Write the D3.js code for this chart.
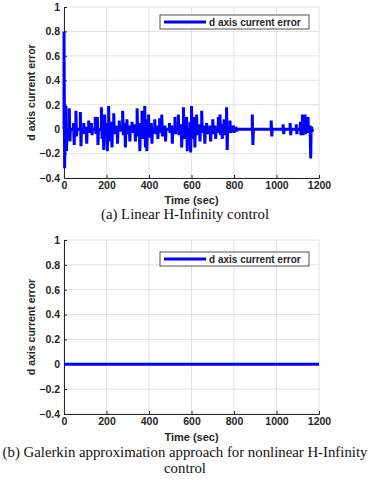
<!DOCTYPE html>
<html>
<head>
<meta charset="utf-8">
<script src="https://cdn.jsdelivr.net/npm/d3@7"></script>
<style>
  body { margin: 0; background: #fff; }
  svg { display: block; }
  .tick text { font-family: Arial, "Liberation Sans", sans-serif; font-weight: bold; font-size: 10.5px; fill: #262626; }
</style>
</head>
<body>
<svg class="chart" width="369" height="480"></svg>
<script>
/*
      Data
*/
const xTicks = [0, 200, 400, 600, 800, 1000, 1200];
const yTicks = [-0.4, -0.2, 0, 0.2, 0.4, 0.6, 0.8, 1];
const seriesName = "d axis current error";

// linear H-infinity: error bursts (time in sec, upper and lower excursion)
const burstTimes = [0, 9, 25, 45, 56, 77, 93, 104, 116, 129, 147, 157, 176, 184, 191, 201, 210, 223, 234, 249, 260, 276, 286, 296, 307, 320, 333, 344, 354, 367, 380, 387, 398, 411, 427, 439, 450, 460, 475, 496, 507, 522, 538, 551, 562, 577, 593, 600, 613, 624, 637, 648, 660, 671, 687, 700, 711, 726, 734, 742, 753, 765, 781, 797, 809, 886, 975, 1031, 1064, 1093, 1112, 1122, 1134, 1148, 1158, 1165];
const burstUp = [0.8, 0.19, 0.17, 0.05, 0.15, 0.14, 0.05, 0.02, 0.07, 0.05, 0.1, 0.1, 0.18, 0.06, 0.12, 0.05, 0.19, 0.06, 0.13, 0.03, 0.07, 0.15, 0.05, 0.08, 0.03, 0.06, 0.04, 0.17, 0.05, 0.15, 0.19, 0.08, 0.12, 0.05, 0.08, 0.03, 0.09, 0.12, 0.03, 0.05, 0.03, 0.1, 0.12, 0.04, 0.18, 0.1, 0.06, 0.19, 0.1, 0.12, 0.04, 0.15, 0.03, 0.05, 0.03, 0.08, 0.03, 0.1, 0.12, 0.04, 0.08, 0.18, 0.07, 0.03, 0.02, 0.12, 0.07, 0.04, 0.05, 0.04, 0.06, 0.12, 0.12, 0.1, 0.03, 0.02];
const burstDown = [-0.32, -0.18, -0.1, -0.13, -0.06, -0.14, -0.04, -0.12, -0.03, -0.05, -0.04, -0.13, -0.08, -0.17, -0.05, -0.18, -0.1, -0.15, -0.04, -0.12, -0.02, -0.05, -0.15, -0.04, -0.1, -0.03, -0.1, -0.06, -0.18, -0.08, -0.15, -0.18, -0.07, -0.12, -0.04, -0.08, -0.03, -0.06, -0.1, -0.03, -0.12, -0.04, -0.05, -0.15, -0.08, -0.18, -0.19, -0.08, -0.15, -0.05, -0.1, -0.03, -0.12, -0.04, -0.1, -0.04, -0.08, -0.03, -0.05, -0.08, -0.05, -0.17, -0.03, -0.03, -0.02, -0.13, -0.06, -0.04, -0.05, -0.04, -0.05, -0.05, -0.04, -0.03, -0.24, -0.02];
const linearEnd = 1173;

// Galerkin nonlinear H-infinity: error stays at zero
const galerkinTimes = [0, 1200];
const galerkinValues = [0, 0];

/*
      Panels
*/
const svg = d3.select(".chart");

function burstPoints() {
  const pts = [];
  burstTimes.forEach((t, i) => {
    pts.push([t, 0], [t, burstUp[i]], [t + 3, burstDown[i]], [t + 5, 0]);
  });
  pts.push([linearEnd, 0]);
  return pts;
}

function drawPanel(opts) {
  const { top, height, points, legendTop, xLabelY } = opts;
  const left = 64, width = 255;
  const g = svg.append("g").attr("transform", `translate(${left},${top})`);

  const x = d3.scaleLinear().domain([0, 1200]).range([0, width]);
  const y = d3.scaleLinear().domain([-0.4, 1]).range([height, 0]);

  // grid
  g.append("g")
    .selectAll("line")
    .data(xTicks)
    .join("line")
    .attr("x1", (d) => x(d)).attr("x2", (d) => x(d))
    .attr("y1", 0).attr("y2", height)
    .attr("stroke", "#e3e3e3");
  g.append("g")
    .selectAll("line")
    .data(yTicks)
    .join("line")
    .attr("x1", 0).attr("x2", width)
    .attr("y1", (d) => y(d)).attr("y2", (d) => y(d))
    .attr("stroke", "#e3e3e3");

  // axes
  const xAxis = g.append("g")
    .attr("transform", `translate(0,${height})`)
    .call(d3.axisBottom(x).tickValues(xTicks).tickSize(-3).tickPadding(4).tickFormat(d3.format("d")));
  const yAxis = g.append("g")
    .call(d3.axisLeft(y).tickValues(yTicks).tickSize(-3).tickPadding(4).tickFormat((d) => d3.format("~g")(+d.toFixed(1))));
  [xAxis, yAxis].forEach((a) => {
    a.select(".domain").attr("stroke", "#262626");
    a.selectAll(".tick line").attr("stroke", "#262626");
  });

  // series
  g.append("path")
    .datum(points)
    .attr("fill", "none")
    .attr("stroke", "#0000ff")
    .attr("stroke-width", 3)
    .attr("d", d3.line().x((d) => x(d[0])).y((d) => y(d[1])));

  // legend
  const lg = g.append("g").attr("transform", `translate(96,${legendTop})`);
  lg.append("rect")
    .attr("width", 149).attr("height", 14)
    .attr("fill", "#fff").attr("stroke", "#262626").attr("stroke-width", 0.8);
  lg.append("line")
    .attr("x1", 4).attr("x2", 46).attr("y1", 7).attr("y2", 7)
    .attr("stroke", "#0000ff").attr("stroke-width", 3);
  lg.append("text")
    .attr("x", 49).attr("y", 10.5)
    .attr("font-family", "Arial, 'Liberation Sans', sans-serif")
    .attr("font-weight", "bold").attr("font-size", "10px").attr("fill", "#262626")
    .text(seriesName);

  // axis labels
  g.append("text")
    .attr("x", width / 2).attr("y", height + xLabelY)
    .attr("text-anchor", "middle")
    .attr("font-family", "Arial, 'Liberation Sans', sans-serif")
    .attr("font-weight", "bold").attr("font-size", "11px").attr("fill", "#262626")
    .text("Time (sec)");
  g.append("text")
    .attr("transform", `translate(-29,${height / 2}) rotate(-90)`)
    .attr("text-anchor", "middle")
    .attr("font-family", "Arial, 'Liberation Sans', sans-serif")
    .attr("font-weight", "bold").attr("font-size", "10.5px").attr("fill", "#262626")
    .text("d axis current error");
}

drawPanel({ top: 7, height: 171, points: burstPoints(), legendTop: 8, xLabelY: 26 });
drawPanel({
  top: 240, height: 174,
  points: galerkinTimes.map((t, i) => [t, galerkinValues[i]]),
  legendTop: 12, xLabelY: 27,
});

/*
      Captions
*/
const captions = [
  { text: "(a) Linear H-Infinity control", y: 219 },
  { text: "(b) Galerkin approximation approach for nonlinear H-Infinity", y: 457 },
  { text: "control", y: 473 },
];
svg.append("g")
  .selectAll("text")
  .data(captions)
  .join("text")
  .attr("x", 185)
  .attr("y", (d) => d.y)
  .attr("text-anchor", "middle")
  .attr("font-family", "'Liberation Serif', 'Times New Roman', serif")
  .attr("font-size", "14.8px")
  .attr("fill", "#111")
  .text((d) => d.text);
</script>
</body>
</html>
